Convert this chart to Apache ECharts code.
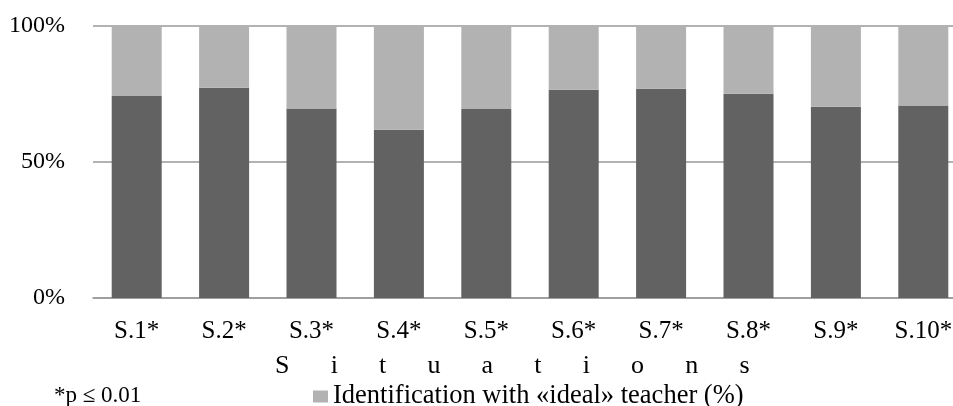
<!DOCTYPE html>
<html>
<head>
<meta charset="utf-8">
<script src="https://cdn.jsdelivr.net/npm/echarts@6/dist/echarts.min.js"></script>
<style>html,body{margin:0;padding:0;background:#fff}#c{width:953px;height:406px}</style>
</head>
<body>
<div id="c"></div>
<script>
const categories = ['S.1*', 'S.2*', 'S.3*', 'S.4*', 'S.5*', 'S.6*', 'S.7*', 'S.8*', 'S.9*', 'S.10*'];
const realValues = [74.1, 77.2, 69.5, 61.7, 69.4, 76.4, 76.8, 75.0, 70.2, 70.6];
const idealValues = [25.9, 22.8, 30.5, 38.3, 30.6, 23.6, 23.2, 25.0, 29.8, 29.4];
const yTicks = [0, 50, 100];
const axisTitleLetters = ['S', 'i', 't', 'u', 'a', 't', 'i', 'o', 'n', 's'];
const noteText = '*p \u2264 0.01';
const idealName = 'Identification with \u00abideal\u00bb teacher (%)';
const realName = 'Identification with \u00abreal\u00bb teacher (%)';

const FONT = "'Liberation Serif', 'Times New Roman', serif";
const chart = echarts.init(document.getElementById('c'), null, {renderer: 'canvas'});
chart.setOption({
  animation: false,
  backgroundColor: '#ffffff',
  textStyle: {fontFamily: FONT, color: '#000'},
  grid: {left: 93, width: 874, top: 25.5, height: 272.5, containLabel: false, outerBoundsMode: 'none'},
  title: [
    {text: axisTitleLetters.join('      \u200A'), left: 270, top: 348,
     textStyle: {fontFamily: FONT, fontSize: 26, fontWeight: 'normal', color: '#000'}},
    {text: noteText, left: 49, top: 379,
     textStyle: {fontFamily: FONT, fontSize: 23, fontWeight: 'normal', color: '#000'}}
  ],
  legend: {
    data: [idealName],
    left: 308, top: 378,
    itemWidth: 15, itemHeight: 12,
    icon: 'rect',
    textStyle: {fontFamily: FONT, fontSize: 26.5, color: '#000'}
  },
  xAxis: {
    type: 'category',
    data: categories,
    axisLine: {show: true, lineStyle: {color: '#999', width: 1.5}},
    axisTick: {show: false},
    axisLabel: {fontFamily: FONT, fontSize: 25, color: '#000', margin: 21, interval: 0}
  },
  yAxis: {
    type: 'value',
    min: yTicks[0], max: yTicks[yTicks.length - 1], interval: yTicks[1] - yTicks[0],
    axisLine: {show: false},
    axisTick: {show: false},
    splitLine: {show: true, lineStyle: {color: '#999', width: 1.5}},
    axisLabel: {fontFamily: FONT, fontSize: 24, color: '#000', margin: 28, formatter: '{value}%'}
  },
  series: [
    {name: realName, type: 'bar', stack: 'total', data: realValues, barWidth: 50,
     itemStyle: {color: '#626262'}},
    {name: idealName, type: 'bar', stack: 'total', data: idealValues, barWidth: 50,
     itemStyle: {color: '#b2b2b2'}}
  ]
});
</script>
</body>
</html>
